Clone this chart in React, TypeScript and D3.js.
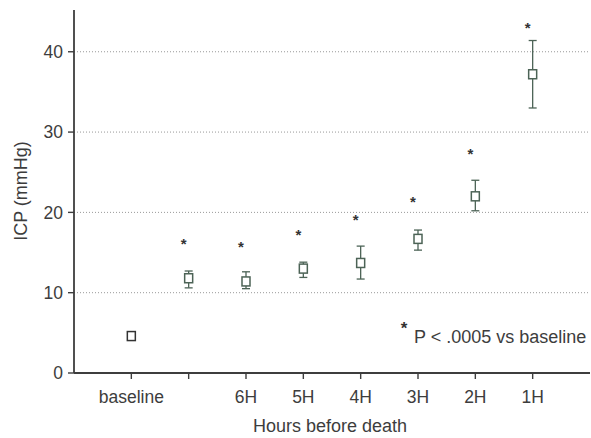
import React from 'react';
import * as d3 from 'd3';

const categories = ['baseline', 'h7', '6H', '5H', '4H', '3H', '2H', '1H'];
const tickLabels = ['baseline', '', '6H', '5H', '4H', '3H', '2H', '1H'];
const means = [4.6, 11.8, 11.4, 13.0, 13.7, 16.7, 22.0, 37.2];
const upper = [5.1, 12.7, 12.6, 13.8, 15.8, 17.8, 24.0, 41.4];
const lower = [4.1, 10.6, 10.5, 11.9, 11.7, 15.3, 20.2, 33.0];
const stars = [null, 16.3, 15.9, 17.4, 19.3, 21.6, 27.5, 43.2];
const yTicks = [0, 10, 20, 30, 40];

const W = 591;
const H = 438;
const left = 74;
const right = 590;
const top = 10;
const bottom = 373;

const ink = '#3d3d3d';
const markColor = '#4c6356';
const font = '"Liberation Sans", Arial, sans-serif';

export default function App() {
  const x = d3.scalePoint<string>().domain(categories).range([left, right]).padding(1);
  const y = d3.scaleLinear().domain([0, 45.2]).range([bottom, top]);

  return (
    <svg width={W} height={H} style={{ position: 'absolute', left: 0, top: 0, background: '#fff' }} fontFamily={font}>
      {/* grid */}
      {yTicks.filter(t => t > 0).map(t => (
        <line key={'g' + t} x1={left} x2={right} y1={y(t)} y2={y(t)}
          stroke="#999" strokeWidth={1} strokeDasharray="1,2" />
      ))}
      {/* axes */}
      <line x1={left} x2={left} y1={top} y2={bottom} stroke={ink} strokeWidth={1.8} />
      <line x1={left} x2={right} y1={bottom} y2={bottom} stroke={ink} strokeWidth={1.8} />
      {yTicks.map(t => (
        <g key={'y' + t}>
          <line x1={left - 6} x2={left} y1={y(t)} y2={y(t)} stroke={ink} strokeWidth={1.4} />
          <text x={left - 11} y={y(t)} dy="0.36em" textAnchor="end" fontSize={17.5} fill={ink}>{t}</text>
        </g>
      ))}
      {categories.map((c, i) => (
        <g key={'x' + c}>
          <line x1={x(c)} x2={x(c)} y1={bottom} y2={bottom + 6} stroke={ink} strokeWidth={1.4} />
          <text x={x(c)} y={403} textAnchor="middle" fontSize={17.5} fill={ink}>{tickLabels[i]}</text>
        </g>
      ))}
      <text x={330} y={432} textAnchor="middle" fontSize={18} fill={ink}>Hours before death</text>
      <text transform={`translate(27,191) rotate(-90)`} textAnchor="middle" fontSize={18} fill={ink}>ICP (mmHg)</text>

      {/* error bars and markers */}
      {categories.map((c, i) => {
        const cx = x(c) as number;
        return (
          <g key={'m' + c} stroke={markColor} strokeWidth={1.3}>
            {i > 0 && (
              <>
                <line x1={cx} x2={cx} y1={y(upper[i])} y2={y(lower[i])} />
                <line x1={cx - 4} x2={cx + 4} y1={y(upper[i])} y2={y(upper[i])} />
                <line x1={cx - 4} x2={cx + 4} y1={y(lower[i])} y2={y(lower[i])} />
              </>
            )}
            <rect x={cx - 4} y={y(means[i]) - 4.5} width={8} height={9} fill="#fff" stroke={i === 0 ? '#333' : markColor} strokeWidth={1.5} />
          </g>
        );
      })}
      {categories.map((c, i) => stars[i] == null ? null : (
        <text key={'s' + c} x={(x(c) as number) - 5} y={y(stars[i] as number) + 7} textAnchor="middle" fontSize={15} fontWeight="bold" fill="#333">*</text>
      ))}

      {/* note */}
      <text x={404} y={334} textAnchor="middle" fontSize={17} fontWeight="bold" fill="#333">*</text>
      <text x={414} y={343} fontSize={18} fill={ink}>P &lt; .0005 vs baseline</text>
    </svg>
  );
}
